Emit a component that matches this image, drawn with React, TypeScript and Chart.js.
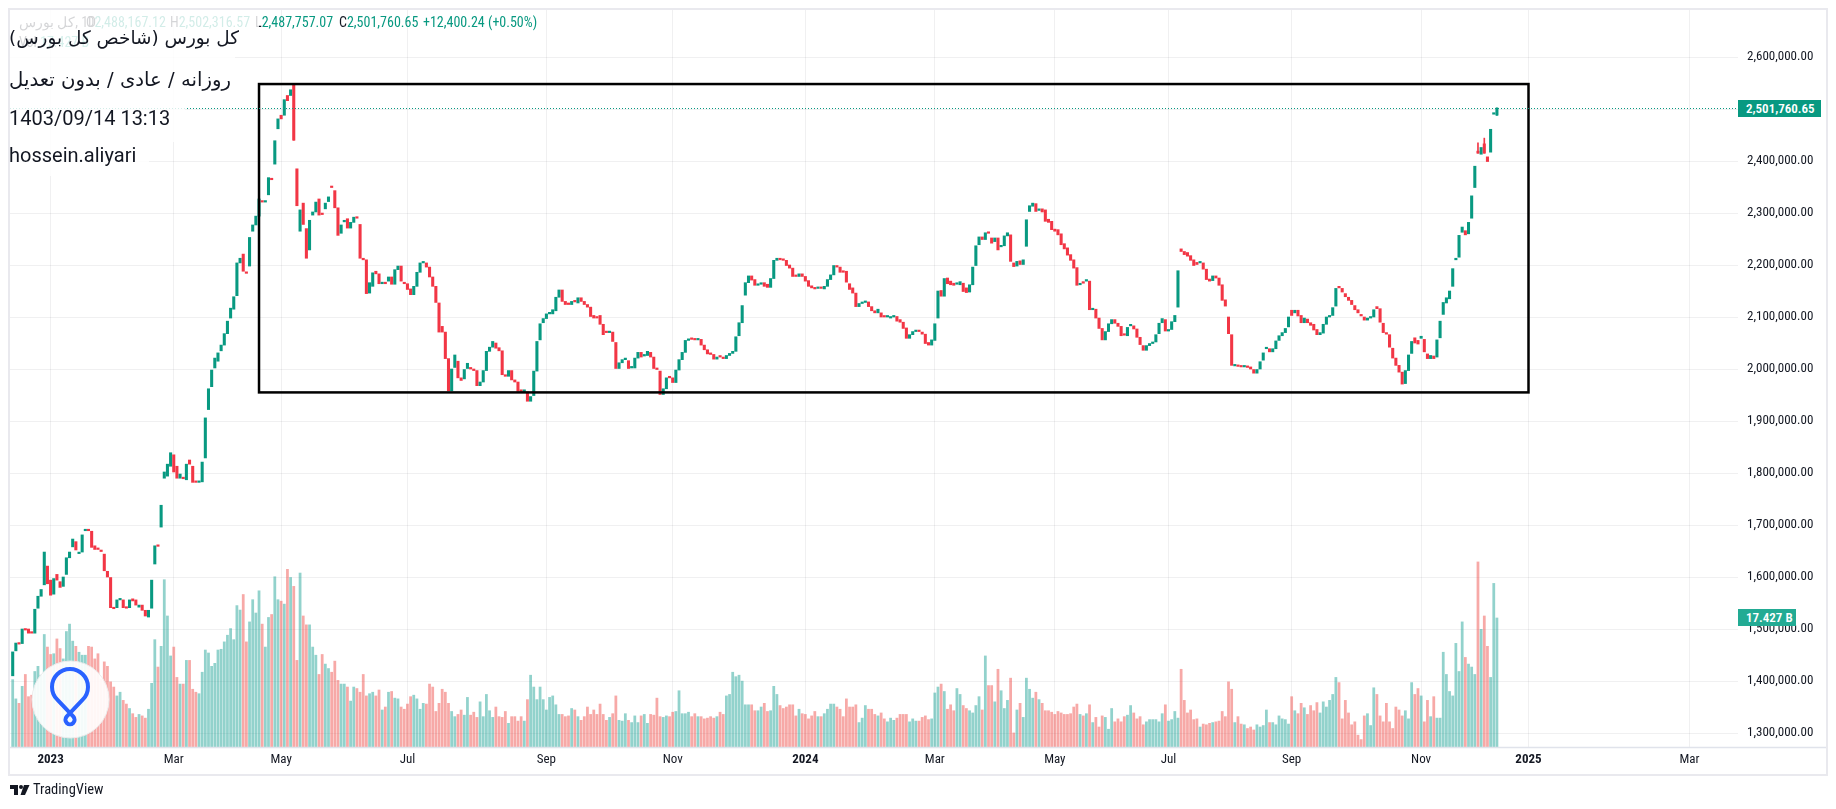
import React, { useEffect, useRef, useState } from "react";
import { Chart, registerables } from "chart.js";

Chart.register(...registerables);

// ---------- DATA (prices in thousands of index points, volume in billions) ----------
const opens = [
  1410,1458,1473,1472,1500,1500,1493,1492,1540,1563,
  1585,1621,1594,1567,1605,1591,1582,1605,1637,1658,
  1668,1645,1648,1689,1690,1688,1660,1655,1651,1644,
  1611,1599,1541,1541,1556,1556,1541,1541,1558,1556,
  1542,1546,1536,1523,1540,1625,1661,1696,1790,1794,
  1813,1835,1813,1790,1792,1787,1825,1813,1784,1782,
  1783,1829,1922,1966,2002,2015,2035,2046,2068,2098,
  2115,2141,2204,2221,2186,2198,2265,2277,2294,2323,
  2321,2335,2366,2394,2462,2488,2488,2526,2526,2547,
  2385,2265,2319,2270,2229,2296,2302,2327,2298,2308,
  2322,2351,2343,2310,2261,2283,2289,2271,2282,2292,
  2278,2213,2210,
  2146,2159,2188,2183,2164,2167,2169,2177,2163,2191,
  2198,2165,2164,2154,2143,2159,2186,2204,2204,2196,
  2177,2159,2127,2082,2071,2020,1958,2003,2015,1983,
  1981,2001,2003,2000,1997,1968,1975,1997,2034,2042,
  2050,2041,2035,1989,1986,1997,1979,1975,1960,1956,
  1956,1938,1949,1996,2056,2089,2097,2106,2106,2112,
  2138,2152,2130,2127,2124,2132,2127,2137,2130,2124,
  2119,2103,2100,2103,2086,2071,2070,2071,2051,2001,
  2012,2018,2016,2002,2002,2021,2032,2025,2026,2032,
  2023,2002,1996,1951,1962,1986,1983,1974,1998,2018,
  2032,2055,2058,2057,2056,2057,2046,2037,2031,2028,
  2019,2024,2023,2020,2026,2030,2034,2064,2089,2142,
  2166,2179,2172,2161,2163,2166,2163,
  2157,2174,2209,2213,2211,2209,2200,2194,2180,2178,
  2183,2178,2170,2160,2157,2155,2157,2154,2159,2172,
  2181,2199,2196,2189,2188,2164,2156,2146,2120,2126,
  2128,2129,2120,2112,2108,2108,2101,2100,2098,2100,
  2101,2095,2090,2079,2059,2066,2072,2074,2071,2067,
  2051,2046,2055,2098,2151,2140,2175,2169,2165,2163,
  2162,2165,2156,2148,2162,2199,2239,2254,2249,2262,
  2252,2245,2252,2235,2237,2256,2258,2204,2198,2208,
  2201,2236,2303,2313,2318,2305,2308,2306,2288,2284,
  2269,2268,2260,2241,2233,2220,2210,2195,2162,2168,
  2169,2169,2114,2115,2098,2078,2056,2072,2087,2095,
  2088,2082,2066,2064,2083,2083,2077,2061,
  2045,2036,2045,2049,2052,2068,2089,2095,2073,2076,
  2091,2119,2231,2226,2224,2218,2210,2205,2204,2204,
  2192,2173,2170,2179,2175,2162,2133,2100,2066,2006,
  2007,2006,2004,2006,2004,1999,1992,2000,2017,2039,
  2039,2033,2039,2055,2064,2070,2081,2113,2108,2113,
  2103,2089,2096,2089,2086,2076,2066,2069,2086,2100,
  2103,2121,2159,2155,2145,2138,2132,2122,2114,2105,
  2100,2094,2098,2100,2120,2116,2088,2070,2066,2040,
  2021,2007,1994,1972,1997,2030,2060,2055,2059,2057,
  2029,2020,2025,2023,2060,2105,2127,2135,2159,2210,
  2215,2263,2266,2260,2290,2349,2419,2413,2433,2408,
  2417,2490,2488.16712,
];

const closes = [
  1456,1473,1471,1500,1498,1492,1492,1538,1563,1576,
  1648,1587,1565,1597,1594,1580,1600,1637,1648,1673,
  1652,1646,1681,1691,1689,1657,1653,1653,1649,1612,
  1600,1541,1539,1556,1556,1541,1540,1556,1554,1546,
  1546,1536,1525,1536,1594,1660,1659,1738,1802,1817,
  1839,1802,1790,1798,1789,1817,1817,1782,1782,1783,
  1821,1906,1962,1998,2021,2031,2046,2068,2092,2117,
  2139,2204,2213,2188,2184,2253,2277,2294,2327,2321,
  2322,2368,2364,2439,2481,2481,2518,2516,2537,2440,
  2314,2306,2278,2213,2286,2302,2321,2296,2297,2319,
  2331,2349,2310,2257,2277,2286,2271,2282,2292,2290,
  2213,2210,2145,
  2166,2185,2183,2164,2167,2164,2177,2163,2191,2198,
  2169,2164,2153,2143,2159,2186,2204,2206,2196,2177,
  2159,2128,2071,2071,2020,1958,2000,2027,1983,1978,
  1999,2011,2000,1997,1968,1975,1997,2034,2042,2053,
  2040,2035,1989,1986,1997,1979,1975,1957,1956,1960,
  1938,1947,1996,2053,2087,2097,2106,2109,2114,2138,
  2152,2130,2124,2124,2130,2129,2137,2130,2124,2119,
  2101,2098,2098,2086,2066,2070,2071,2053,2001,2012,
  2018,2021,2001,2005,2021,2032,2023,2028,2034,2023,
  2001,1999,1951,1962,1983,1983,1974,1998,2018,2032,
  2055,2058,2057,2056,2058,2046,2037,2029,2028,2019,
  2023,2023,2020,2026,2030,2034,2062,2089,2122,2166,
  2179,2171,2161,2162,2164,2159,2157,
  2174,2209,2213,2210,2209,2199,2194,2178,2178,2183,
  2178,2169,2159,2156,2154,2157,2155,2159,2172,2181,
  2199,2196,2186,2186,2167,2153,2146,2120,2126,2128,
  2129,2120,2112,2108,2115,2100,2100,2100,2100,2103,
  2092,2090,2078,2059,2066,2072,2072,2072,2067,2049,
  2046,2056,2087,2150,2140,2174,2164,2162,2161,2163,
  2168,2149,2147,2162,2196,2237,2254,2249,2262,2261,
  2242,2252,2229,2236,2256,2262,2207,2197,2207,2201,
  2210,2287,2314,2319,2303,2308,2302,2284,2282,2268,
  2265,2258,2239,2231,2219,2209,2194,2161,2163,2165,
  2172,2114,2116,2098,2078,2056,2072,2087,2095,2088,
  2082,2064,2065,2080,2083,2077,2061,2047,
  2036,2045,2049,2052,2066,2088,2097,2073,2076,2091,
  2103,2189,2226,2220,2217,2209,2199,2201,2204,2192,
  2172,2169,2179,2175,2161,2132,2121,2068,2007,2007,
  2005,2004,2005,2003,2000,1992,1999,2014,2031,2041,
  2033,2039,2054,2064,2070,2078,2100,2103,2113,2102,
  2089,2098,2089,2084,2075,2066,2070,2086,2100,2103,
  2118,2155,2156,2148,2139,2132,2124,2114,2108,2102,
  2094,2098,2100,2114,2116,2090,2070,2067,2042,2021,
  2007,1994,1971,1997,2027,2053,2050,2048,2063,2033,
  2020,2026,2020,2056,2092,2128,2137,2150,2193,2213,
  2257,2273,2258,2282,2333,2390,2415,2426,2415,2399,
  2461,2490,2501.76065,
];

const volumes = [
  9.1,6.5,5.9,8.2,9.8,6.8,7.0,10.2,10.9,9.7,
  15.2,13.5,12.5,12.6,14.6,13.3,11.9,15.6,16.6,14.3,
  13.6,12.8,12.4,12.4,13.6,13.5,11.9,12.6,9.2,11.5,
  10.9,8.8,8.1,6.9,7.4,6.3,5.8,5.2,4.5,4.0,
  4.4,4.2,3.9,5.1,8.6,14.5,10.8,13.6,22.6,17.7,
  12.3,13.5,9.4,8.5,8.5,11.7,11.7,7.8,7.4,7.2,
  10.1,13.1,12.7,10.9,11.3,13.1,13.2,14.2,15.1,16.0,
  14.5,19.1,18.5,20.6,14.2,16.9,19.9,18.1,21.1,16.6,
  13.5,17.5,17.9,23.0,19.9,19.7,19.3,24.0,22.9,21.7,
  11.7,23.5,17.7,16.5,16.5,13.5,12.4,9.8,12.5,11.2,
  10.6,10.1,11.6,9.0,
  8.5,8.5,8.1,6.2,8.1,7.9,7.4,9.8,6.9,7.2,
  7.4,6.9,7.7,5.0,5.4,7.4,7.5,6.6,6.5,5.4,
  5.1,5.8,6.8,7.0,6.5,5.1,5.9,5.8,8.5,8.1,
  4.8,5.9,7.8,7.4,5.9,4.8,4.1,4.4,5.0,4.3,
  6.7,4.3,4.7,4.0,6.1,4.1,7.1,4.9,4.0,5.4,
  4.1,4.0,4.8,3.2,4.1,4.1,3.5,4.1,3.5,6.4,
  9.7,8.1,6.4,8.1,6.4,5.0,6.7,6.9,5.7,4.4,
  4.4,4.1,4.2,5.2,5.0,4.1,3.6,4.1,5.4,4.4,
  5.0,4.4,5.8,4.4,3.6,4.0,4.5,6.9,3.6,3.5,
  4.5,3.6,3.3,4.2,3.3,4.2,4.4,3.2,4.4,4.3,
  6.6,4.1,4.0,4.2,4.1,4.7,4.8,7.6,4.5,4.5,
  4.7,4.1,4.5,4.1,4.1,3.8,3.9,4.1,3.9,4.1,
  4.7,4.4,6.9,7.1,10.1,9.5,9.7,8.9,5.7,5.7,
  5.7,4.9,
  4.9,5.4,5.9,4.8,4.9,8.2,7.1,5.6,5.2,5.4,
  5.7,5.7,4.2,5.1,4.5,4.4,3.8,4.2,4.8,4.1,
  4.1,4.5,5.1,5.8,5.8,5.4,5.1,4.1,6.5,5.4,
  5.4,5.7,3.3,3.9,5.6,5.1,5.1,4.4,4.2,4.6,
  3.8,3.4,3.9,3.6,3.9,4.4,4.4,4.4,3.4,3.8,
  3.5,3.5,4.0,4.2,3.7,3.8,7.3,8.1,8.5,7.5,
  5.1,5.7,4.9,7.9,7.1,5.6,5.2,4.9,4.6,5.6,
  6.8,5.0,12.3,8.3,8.3,6.1,10.5,7.6,5.2,6.3,
  9.3,1.9,5.0,5.9,4.0,9.3,7.8,6.6,7.4,6.4,
  5.9,4.9,4.9,4.7,4.4,4.8,4.6,4.4,4.4,4.5,
  5.4,5.8,4.4,4.2,4.5,5.7,3.3,4.0,2.7,4.2,
  4.0,2.4,5.2,3.4,3.8,3.4,4.1,4.3,5.6,4.6,
  3.8,4.1,3.0,3.4,3.7,3.7,3.7,3.4,4.5,5.7,
  3.5,3.7,4.8,3.9,10.5,6.3,4.6,5.0,3.7,3.8,
  2.7,3.1,3.0,3.2,3.3,3.4,3.5,4.8,4.1,8.8,
  7.8,3.3,4.1,3.1,3.0,2.5,2.7,2.3,3.0,2.7,
  2.9,5.0,3.3,3.3,3.0,4.2,3.8,3.7,3.1,6.8,
  4.9,4.5,5.9,5.3,4.4,5.6,4.9,6.0,4.6,6.1,
  5.4,6.3,7.1,9.4,8.7,3.8,6.3,4.6,3.0,3.4,
  1.6,1.0,4.2,4.5,2.9,8.0,7.1,4.2,3.4,5.9,
  3.4,2.5,5.4,5.0,4.2,4.9,3.8,8.7,7.1,7.9,
  6.9,3.4,6.3,4.1,6.8,3.9,3.9,12.8,9.8,7.5,
  6.9,14.0,10.2,16.9,12.1,11.2,10.8,9.8,25.0,15.9,
  17.7,13.6,9.4,22.1,17.427,
];

// [bar index, high, low] for candles whose wick extends beyond the body
const wickBars = [
  [89, 2549, 2440],
  [464, 2435, 2415],
  [466, 2444, 2415],
  [470, 2502.31657, 2487.75707],
];

// bar index where each month label of the time axis sits
const monthIndex = [12, 51, 85, 125, 169, 209, 251, 292, 330, 366, 405, 446, 480, 531];
const monthLabels = ["2023", "Mar", "May", "Jul", "Sep", "Nov", "2024", "Mar", "May", "Jul", "Sep", "Nov", "2025", "Mar"];

const priceTicks = [1300000, 1400000, 1500000, 1600000, 1700000, 1800000, 1900000, 2000000, 2100000, 2200000, 2300000, 2400000, 2500000, 2600000];

// drawn rectangle (trading range) : bar indices and price bounds (thousands)
const rangeBox = { fromIndex: 78, toIndex: 480, high: 2548, low: 1955 };

const lastBar = {
  open: 2488167.12,
  high: 2502316.57,
  low: 2487757.07,
  close: 2501760.65,
  change: "+12,400.24 (+0.50%)",
  volumeB: 17.427,
};

// ---------- STYLE ----------
const K = 1000;
const GREEN = "#089981";
const RED = "#f23645";
const VOL_UP = "rgba(38,166,154,0.5)";
const VOL_DOWN = "rgba(239,83,80,0.5)";
const GRID = "rgba(42,46,57,0.07)";
const AXIS_FONT = "'Liberation Sans Narrow','Arial Narrow','Roboto Condensed',Roboto,sans-serif";
const CANVAS_W = 1816;
const CANVAS_H = 764;

const overlayPlugin = {
  id: "overlayPlugin",
  afterDatasetsDraw(chart: any) {
    const { ctx, chartArea, scales } = chart;
    const xs = scales.x;
    const ys = scales.y;
    ctx.save();
    const x0 = xs.getPixelForValue(rangeBox.fromIndex);
    const x1 = xs.getPixelForValue(rangeBox.toIndex);
    const y0 = ys.getPixelForValue(rangeBox.high * K);
    const y1 = ys.getPixelForValue(rangeBox.low * K);
    ctx.strokeStyle = "#000000";
    ctx.lineWidth = 2.5;
    ctx.strokeRect(x0, y0, x1 - x0, y1 - y0);
    const py = Math.round(ys.getPixelForValue(lastBar.close)) + 0.5;
    ctx.strokeStyle = GREEN;
    ctx.lineWidth = 1;
    ctx.setLineDash([1, 2]);
    ctx.beginPath();
    ctx.moveTo(chartArea.left, py);
    ctx.lineTo(chartArea.right, py);
    ctx.stroke();
    ctx.restore();
  },
  afterDraw(chart: any) {
    const { ctx, chartArea, width } = chart;
    ctx.save();
    ctx.strokeStyle = "#e0e3eb";
    ctx.lineWidth = 1.5;
    const yy = Math.round(chartArea.bottom) + 0.5;
    ctx.beginPath();
    ctx.moveTo(0, yy);
    ctx.lineTo(width, yy);
    ctx.stroke();
    ctx.restore();
  },
};

const noPad = (s: any) => {
  s.paddingTop = 0;
  s.paddingBottom = 0;
  s.paddingLeft = 0;
  s.paddingRight = 0;
};

export default function App() {
  const canvasRef = useRef<HTMLCanvasElement | null>(null);
  const [marks, setMarks] = useState<{ priceY: number; volY: number; right: number } | null>(null);

  useEffect(() => {
    if (!canvasRef.current) return;
    const up = opens.map((o, i) => closes[i] >= o);
    const bodyData = opens.map((o, i) => ({ x: i, y: [o * K, closes[i] * K] }));
    const wickData = wickBars.map(([i, h, l]) => ({ x: i, y: [l * K, h * K] }));
    const volData = volumes.map((v, i) => ({ x: i, y: v }));

    const chart = new Chart(canvasRef.current, {
      type: "bar",
      data: {
        datasets: [
          {
            label: "body",
            data: bodyData as any,
            backgroundColor: up.map((u) => (u ? GREEN : RED)),
            barThickness: 2.4,
            minBarLength: 1.5,
            grouped: false,
            borderWidth: 0,
            yAxisID: "y",
            order: 1,
          },
          {
            label: "wick",
            data: wickData as any,
            backgroundColor: wickBars.map(([i]) => (up[i] ? GREEN : RED)),
            barThickness: 1,
            grouped: false,
            borderWidth: 0,
            yAxisID: "y",
            order: 2,
          },
          {
            label: "volume",
            data: volData as any,
            backgroundColor: up.map((u) => (u ? VOL_UP : VOL_DOWN)),
            barThickness: 2.1,
            grouped: false,
            borderWidth: 0,
            yAxisID: "yv",
            order: 3,
          },
        ],
      },
      options: {
        animation: false,
        responsive: false,
        maintainAspectRatio: false,
        devicePixelRatio: 1,
        events: [],
        layout: { padding: 0 },
        plugins: { legend: { display: false }, tooltip: { enabled: false } },
        scales: {
          x: {
            type: "linear",
            bounds: "data",
            min: -0.855,
            max: 546.34,
            offset: false,
            grid: { color: GRID, drawTicks: false, offset: false },
            border: { display: false },
            afterBuildTicks: (s: any) => {
              s.ticks = monthIndex.map((v) => ({ value: v }));
            },
            afterFit: (s: any) => {
              s.height = 27;
              noPad(s);
            },
            ticks: {
              autoSkip: false,
              maxRotation: 0,
              minRotation: 0,
              padding: 5,
              color: "#131722",
              font: (c: any) => ({
                family: AXIS_FONT,
                size: 13,
                weight: /^\d{4}$/.test(monthLabels[c.index] || "") ? "bold" : "normal",
              }),
              callback: (_v: any, i: number) => monthLabels[i],
            },
          } as any,
          y: {
            type: "linear",
            position: "right",
            bounds: "data",
            min: 1273100,
            max: 2690400,
            grid: { color: GRID, drawTicks: false },
            border: { display: false },
            afterBuildTicks: (s: any) => {
              s.ticks = priceTicks.map((v) => ({ value: v }));
            },
            afterFit: (s: any) => {
              s.width = 88;
              noPad(s);
            },
            ticks: {
              padding: 9,
              color: "#131722",
              font: { family: AXIS_FONT, size: 13 },
              callback: (v: any) =>
                Number(v).toLocaleString("en-US", { minimumFractionDigits: 2, maximumFractionDigits: 2 }),
            },
          } as any,
          yv: {
            type: "linear",
            display: false,
            min: 0,
            max: 99.56,
          } as any,
        },
      } as any,
      plugins: [overlayPlugin as any],
    });

    setMarks({
      priceY: chart.scales.y.getPixelForValue(lastBar.close),
      volY: chart.scales.yv.getPixelForValue(lastBar.volumeB),
      right: chart.chartArea.right,
    });

    return () => {
      chart.destroy();
    };
  }, []);

  const legendFont = AXIS_FONT;
  const legendItem = (left: number, letter: string, value: string) => (
    <span style={{ position: "absolute", left, top: 6, lineHeight: "16px", fontSize: 14, fontFamily: legendFont, whiteSpace: "nowrap" }}>
      <span style={{ color: "#131722" }}>{letter}</span>
      <span style={{ color: GREEN }}>{value}</span>
    </span>
  );

  const rowBox = (top: number, width: number, height: number) => (
    <div style={{ position: "absolute", left: 2, top, width, height, background: "rgba(255,255,255,0.82)" }} />
  );

  const fmt = (n: number) => n.toLocaleString("en-US", { minimumFractionDigits: 2, maximumFractionDigits: 2 });

  return (
    <div style={{ position: "relative", width: 1820, height: 793, fontFamily: "Roboto, 'Noto Sans', sans-serif", color: "#131722" }}>
      <div
        style={{
          position: "absolute",
          left: 0,
          top: 0,
          width: 1820,
          height: 768,
          border: "2px solid #e9e9ee",
          boxSizing: "border-box",
          background: "#ffffff",
        }}
      >
        <canvas ref={canvasRef} width={CANVAS_W} height={CANVAS_H} style={{ display: "block", width: CANVAS_W, height: CANVAS_H }} />
      </div>

      {/* legend line (partly hidden behind the title boxes) */}
      <span style={{ position: "absolute", left: 11, top: 6, lineHeight: "16px", fontSize: 14, fontFamily: legendFont, color: "#131722", whiteSpace: "nowrap" }}>
        <span dir="rtl">کل بورس</span>, 1D
      </span>
      {legendItem(78, "O", fmt(lastBar.open))}
      {legendItem(162, "H", fmt(lastBar.high))}
      {legendItem(247, "L", fmt(lastBar.low))}
      {legendItem(331, "C", fmt(lastBar.close))}
      <span style={{ position: "absolute", left: 415, top: 6, lineHeight: "16px", fontSize: 14, fontFamily: legendFont, color: GREEN, whiteSpace: "nowrap" }}>
        {lastBar.change}
      </span>
      <span style={{ position: "absolute", left: 11, top: 26, lineHeight: "16px", fontSize: 14, fontFamily: legendFont, color: "#131722", whiteSpace: "nowrap" }}>
        Vol <span style={{ color: "#22ab94" }}>{lastBar.volumeB.toFixed(3)} B</span>
      </span>

      {/* title boxes */}
      {rowBox(2, 249, 47)}
      {rowBox(49, 225, 43)}
      {rowBox(92, 175, 42)}
      {rowBox(134, 139, 34)}

      <div style={{ position: "absolute", left: 1, top: 18, lineHeight: "24px", fontSize: 18.4, whiteSpace: "nowrap", fontFamily: "'DejaVu Sans', sans-serif", color: "#131722" }}>
        <span dir="rtl" style={{ unicodeBidi: "isolate" }}>کل بورس (شاخص کل بورس)</span>
      </div>
      <div style={{ position: "absolute", left: 1, top: 60, lineHeight: "24px", fontSize: 19.7, whiteSpace: "nowrap", fontFamily: "'DejaVu Sans', sans-serif", color: "#131722" }}>
        <span dir="rtl" style={{ unicodeBidi: "isolate" }}>روزانه / عادی / بدون تعدیل</span>
      </div>
      <div style={{ position: "absolute", left: 1, top: 98, lineHeight: "24px", fontSize: 20, whiteSpace: "nowrap", color: "#131722" }}>
        1403/09/14 13:13
      </div>
      <div style={{ position: "absolute", left: 1, top: 135, lineHeight: "24px", fontSize: 20, whiteSpace: "nowrap", color: "#131722" }}>
        hossein.aliyari
      </div>

      {/* watermark logo */}
      <svg style={{ position: "absolute", left: 22, top: 651 }} width={82} height={82} viewBox="0 0 82 82">
        <circle cx={40.5} cy={40.5} r={38.5} fill="rgba(255,255,255,0.9)" stroke="#ececec" strokeWidth={1} />
        <path
          d="M27.3 40.7 A18 18 0 1 1 52.7 40.7 L36.6 57.6 A4.6 4.6 0 1 0 43.4 57.6 Z"
          fill="none"
          stroke="#2962ff"
          strokeWidth={4}
          strokeLinejoin="round"
        />
      </svg>

      {/* last price / last volume labels on the price axis */}
      {marks && (
        <div
          style={{
            position: "absolute",
            left: 2 + marks.right,
            top: 2 + marks.priceY - 8.5,
            width: 83,
            height: 17,
            background: GREEN,
            color: "#ffffff",
            fontSize: 13,
            fontWeight: 600,
            fontFamily: AXIS_FONT,
            lineHeight: "17px",
            paddingLeft: 8,
            boxSizing: "border-box",
            whiteSpace: "nowrap",
          }}
        >
          {fmt(lastBar.close)}
        </div>
      )}
      {marks && (
        <div
          style={{
            position: "absolute",
            left: 2 + marks.right,
            top: 2 + marks.volY - 8.5,
            width: 58,
            height: 17,
            background: "#22ab94",
            color: "#ffffff",
            fontSize: 13,
            fontWeight: 600,
            fontFamily: AXIS_FONT,
            lineHeight: "17px",
            paddingLeft: 8,
            boxSizing: "border-box",
            whiteSpace: "nowrap",
          }}
        >
          {lastBar.volumeB.toFixed(3)} B
        </div>
      )}

      {/* footer */}
      <svg style={{ position: "absolute", left: 2, top: 776 }} width={20} height={12} viewBox="0 0 20 12">
        <path d="M0 1 H8 V11 H4 V5 H0 Z" fill="#131722" />
        <circle cx={11} cy={3} r={2} fill="#131722" />
        <path d="M14 1 H19.5 L15 11 H10.5 Z" fill="#131722" />
      </svg>
      <div style={{ position: "absolute", left: 25, top: 774, lineHeight: "16px", fontSize: 14.5, fontFamily: AXIS_FONT, color: "#131722" }}>
        TradingView
      </div>
    </div>
  );
}
